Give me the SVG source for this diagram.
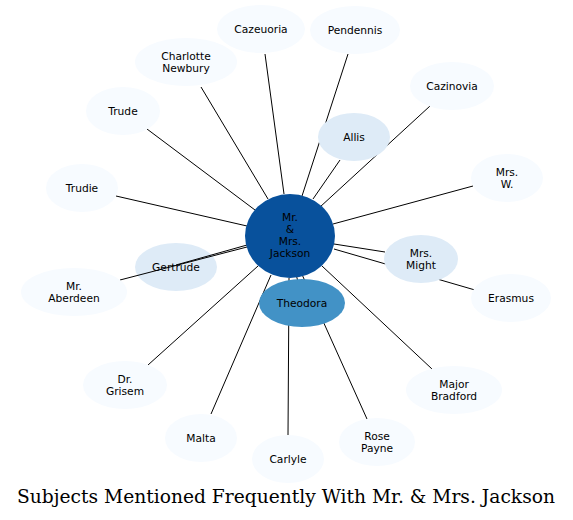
<svg xmlns="http://www.w3.org/2000/svg" width="573" height="520" viewBox="0 0 573 520">
<style>
.e{stroke:#000;stroke-width:1;fill:none}
.n0{fill:#f7fbff}
.n1{fill:#deebf7}
text{font-family:"DejaVu Sans",sans-serif;font-size:10.67px;text-anchor:middle;fill:#000}
.t{font-family:"DejaVu Serif",serif;font-size:18.67px}
</style>
<rect width="573" height="520" fill="#fff"/>
<g id="edges">
<line class="e" x1="284" y1="194" x2="265" y2="54"/>
<line class="e" x1="302" y1="196" x2="348" y2="54"/>
<line class="e" x1="268" y1="199" x2="201" y2="87"/>
<line class="e" x1="320" y1="207" x2="430" y2="106"/>
<line class="e" x1="313" y1="199" x2="340" y2="160"/>
<line class="e" x1="255" y1="210" x2="147" y2="129"/>
<line class="e" x1="247" y1="226" x2="116" y2="196"/>
<line class="e" x1="333" y1="224" x2="473" y2="186"/>
<line class="e" x1="334" y1="244" x2="385" y2="252"/>
<line class="e" x1="334" y1="249" x2="475" y2="290"/>
<line class="e" x1="258" y1="266" x2="148" y2="365"/>
<line class="e" x1="271" y1="275" x2="211" y2="414"/>
<line class="e" x1="289" y1="278" x2="288" y2="435"/>
<line class="e" x1="300" y1="270" x2="367" y2="419"/>
<line class="e" x1="322" y1="266" x2="432" y2="369"/>
<line class="e" x1="295" y1="270" x2="300" y2="290"/>
</g>
<g id="n_cazeuoria"><ellipse class="n0" cx="261" cy="29" rx="44" ry="24"/><text x="261" y="33">Cazeuoria</text></g>
<g id="n_pendennis"><ellipse class="n0" cx="355" cy="30" rx="45" ry="24"/><text x="355" y="34">Pendennis</text></g>
<g id="n_charlotte"><ellipse class="n0" cx="186" cy="62" rx="51" ry="24"/><text x="186" y="60">Charlotte</text><text x="186" y="72">Newbury</text></g>
<g id="n_cazinovia"><ellipse class="n0" cx="452" cy="86" rx="42" ry="24"/><text x="452" y="90">Cazinovia</text></g>
<g id="n_trude"><ellipse class="n0" cx="123" cy="111" rx="37" ry="24"/><text x="123" y="115">Trude</text></g>
<g id="n_allis"><ellipse class="n1" cx="354" cy="137" rx="36" ry="24"/><text x="354" y="141">Allis</text></g>
<g id="n_trudie"><ellipse class="n0" cx="82" cy="188" rx="36" ry="24"/><text x="82" y="192">Trudie</text></g>
<g id="n_mrsw"><ellipse class="n0" cx="507" cy="178" rx="36" ry="24"/><text x="507" y="176">Mrs.</text><text x="507" y="188">W.</text></g>
<g id="n_gertrude"><ellipse class="n1" cx="176" cy="267" rx="41" ry="24"/><text x="176" y="271">Gertrude</text></g>
<g id="edges_over">
<line class="e" x1="247" y1="245" x2="176" y2="265"/>
<line class="e" x1="247" y1="247" x2="120" y2="280"/>
</g>
<g id="n_aberdeen"><ellipse class="n0" cx="74" cy="292" rx="53" ry="24"/><text x="74" y="290">Mr.</text><text x="74" y="302">Aberdeen</text></g>
<g id="n_center"><ellipse fill="#08519c" cx="290" cy="236" rx="45" ry="42"/><text x="290" y="221">Mr.</text><text x="290" y="233">&amp;</text><text x="290" y="245">Mrs.</text><text x="290" y="257">Jackson</text></g>
<g id="n_might"><ellipse class="n1" cx="421" cy="259" rx="37" ry="24"/><text x="421" y="257">Mrs.</text><text x="421" y="269">Might</text></g>
<g id="n_erasmus"><ellipse class="n0" cx="511" cy="298" rx="40" ry="24"/><text x="511" y="302">Erasmus</text></g>
<g id="n_theodora"><ellipse fill="#4292c6" cx="302" cy="303" rx="43" ry="24"/><text x="302" y="307">Theodora</text></g>
<g id="n_grisem"><ellipse class="n0" cx="125" cy="385" rx="42" ry="24"/><text x="125" y="383">Dr.</text><text x="125" y="395">Grisem</text></g>
<g id="n_bradford"><ellipse class="n0" cx="454" cy="390" rx="48" ry="24"/><text x="454" y="388">Major</text><text x="454" y="400">Bradford</text></g>
<g id="n_malta"><ellipse class="n0" cx="201" cy="438" rx="36" ry="24"/><text x="201" y="442">Malta</text></g>
<g id="n_carlyle"><ellipse class="n0" cx="288" cy="459" rx="36" ry="24"/><text x="288" y="463">Carlyle</text></g>
<g id="n_rosepayne"><ellipse class="n0" cx="377" cy="442" rx="38" ry="24"/><text x="377" y="440">Rose</text><text x="377" y="452">Payne</text></g>
<text class="t" x="286" y="503">Subjects Mentioned Frequently With Mr. &amp; Mrs. Jackson</text>
</svg>
